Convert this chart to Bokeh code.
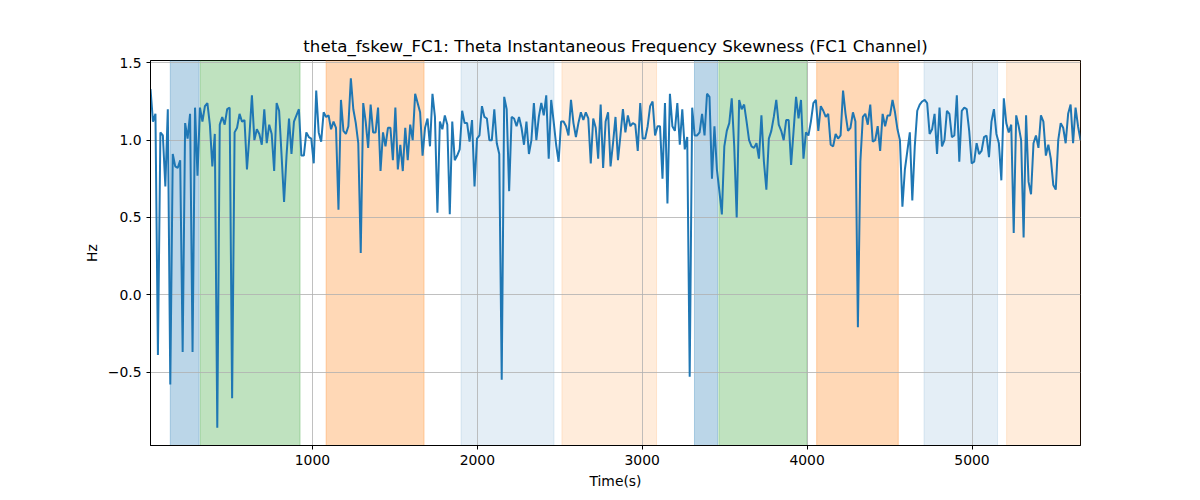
from bokeh.plotting import figure
from bokeh.models import Range1d, FixedTicker
from bokeh.embed import file_html
from bokeh.resources import INLINE

# ---- data ----
t_start = 18.0
t_step = 15.0
values = [
    1.33, 1.12, 1.17, -0.39, 1.05, 1.03, 0.70, 1.20, -0.58, 0.91, 0.83, 0.82, 0.87, -0.37, 1.11, 1.01,
    1.17, -0.37, 1.21, 0.77, 1.21, 1.12, 1.22, 1.24, 1.10, 0.83, 1.04, -0.86, 1.10, 1.15, 1.10, 1.20,
    1.21, -0.67, 1.05, 1.08, 1.17, 1.12, 1.13, 0.81, 1.03, 1.29, 1.00, 1.07, 1.04, 0.97, 1.20,
    0.98, 1.10, 1.04, 0.80, 1.24, 1.19, 0.90, 0.60, 0.90, 1.14, 0.91, 1.12, 1.16, 1.20, 0.90, 0.90,
    1.05, 1.02, 1.01, 0.85, 1.32, 1.05, 0.99, 1.18, 1.15, 1.16, 1.07, 1.12, 1.08, 0.55, 1.26, 1.06,
    1.04, 1.09, 1.40, 1.20, 1.11, 0.98, 0.27, 1.24, 1.12, 0.95, 1.23, 1.05, 1.05, 1.21, 0.80,
    1.05, 0.96, 1.08, 1.08, 0.87, 1.21, 0.81, 0.97, 0.80, 1.08, 0.87, 1.10, 1.00, 1.30, 1.24, 1.18,
    0.90, 1.08, 1.14, 0.96, 1.30, 1.15, 0.53, 1.12, 1.07, 1.16, 1.10, 0.52, 1.12, 0.87, 0.90, 0.94,
    1.19, 1.11, 1.11, 0.99, 1.13, 0.70, 1.01, 1.03, 1.22, 1.15, 1.14, 1.00, 1.00, 1.20,
    0.98, 0.91, -0.55, 1.28, 1.20, 0.67, 1.15, 1.14, 1.09, 1.15, 1.08, 0.97, 1.12, 0.91, 1.00, 1.24,
    1.00, 1.15, 1.24, 1.16, 1.29, 0.88, 1.26, 1.12, 0.97, 0.86, 1.12, 1.12, 1.09, 1.03, 1.26, 1.11,
    1.02, 1.11, 1.18, 1.13, 1.18, 1.14, 0.85, 1.14, 1.08, 0.88, 1.23, 0.82, 1.12, 1.18, 0.83,
    0.98, 1.15, 0.87, 1.03, 1.20, 1.05, 1.16, 1.09, 1.11, 1.10, 0.93, 1.24, 1.01, 1.01, 1.09, 1.22,
    1.25, 1.03, 1.09, 1.09, 0.75, 1.24, 0.59, 1.30, 1.09, 1.06, 1.24, 0.97, 1.20, 0.94, 1.02, -0.53,
    1.21, 1.03, 1.03, 1.05, 1.17, 1.03, 1.30, 1.28, 0.75, 1.09, 0.81, 0.67, 0.52, 0.96,
    1.06, 1.11, 1.27, 0.96, 0.50, 1.26, 1.20, 1.23, 1.12, 1.00, 0.96, 0.95, 0.98, 0.88, 1.16, 0.86,
    0.68, 1.01, 1.06, 1.15, 1.26, 1.10, 1.06, 1.00, 1.13, 1.13, 0.84, 1.06, 1.28, 1.14, 1.26, 0.88,
    1.05, 1.03, 1.12, 1.24, 1.26, 1.06, 1.22, 1.19, 1.15, 1.17, 0.97, 0.96, 1.04, 1.01,
    1.03, 1.32, 1.17, 1.06, 1.08, 1.18, 1.12, -0.21, 0.86, 1.15, 1.17, 1.10, 1.23, 0.99, 1.00, 1.09,
    0.93, 1.17, 1.09, 1.16, 1.16, 1.26, 1.18, 1.07, 1.00, 0.57, 0.81, 0.93, 1.05, 0.61, 0.96, 1.19,
    1.23, 1.25, 1.26, 1.24, 1.04, 1.07, 1.17, 0.91, 1.21, 0.96, 1.00, 1.19, 1.17, 1.02, 1.03,
    1.29, 0.86, 1.19, 1.21, 1.20, 1.06, 0.85, 0.86, 0.98, 0.91, 0.93, 1.02, 1.03, 0.89, 1.12, 1.20,
    1.04, 0.98, 0.74, 1.27, 1.11, 1.05, 1.10, 0.40, 1.16, 1.09, 1.00, 0.37, 1.16, 0.73, 0.65, 0.98,
    1.03, 0.95, 1.16, 1.12, 0.90, 0.97, 0.88, 0.71, 0.68, 1.00, 1.11, 1.08, 0.98, 1.17, 1.23, 0.98,
    1.21, 1.09, 1.00,
]
times = [t_start + i * t_step for i in range(len(values))]

band_starts = [138, 320, 1083, 1901, 2513, 3317, 3465, 4058, 4709, 5210]
band_ends = [313, 925, 1677, 2465, 3087, 3457, 4000, 4553, 5155, 5658]
band_colors = ["#1f77b4", "#2ca02c", "#ff7f0e", "#1f77b4", "#ff7f0e",
               "#1f77b4", "#2ca02c", "#ff7f0e", "#1f77b4", "#ff7f0e"]
band_alphas = [0.3, 0.3, 0.3, 0.12, 0.15, 0.3, 0.3, 0.3, 0.12, 0.15]

x_ticks = [1000, 2000, 3000, 4000, 5000]
y_ticks = [-0.5, 0.0, 0.5, 1.0, 1.5]
y_tick_labels = {-0.5: "\u22120.5", 0.0: "0.0", 0.5: "0.5", 1.0: "1.0", 1.5: "1.5"}

FONT = "DejaVu Sans"

p = figure(
    frame_width=930, frame_height=385,
    min_border_left=150, min_border_right=112, min_border_top=60, min_border_bottom=47,
    x_range=Range1d(times[0], times[-1]), y_range=Range1d(-0.975, 1.515),
    output_backend="svg", toolbar_location=None,
    title="theta_fskew_FC1: Theta Instantaneous Frequency Skewness (FC1 Channel)",
)
p.title.align = "center"
p.title.text_font = FONT
p.title.text_font_size = "16.67px"
p.title.text_font_style = "normal"
p.title.text_color = "black"

# shaded bands (below grid)
p.quad(left=band_starts, right=band_ends, bottom=-10, top=10,
       fill_color=band_colors, fill_alpha=band_alphas,
       line_color=band_colors, line_alpha=band_alphas, line_width=1, level="image")

p.line(times, values, line_color="#1f77b4", line_width=2)

p.outline_line_color = "black"
p.outline_line_width = 1

for ax in (p.xaxis, p.yaxis):
    ax.axis_line_color = "black"
    ax.major_tick_line_color = "black"
    ax.major_tick_out = 4
    ax.major_tick_in = 0
    ax.minor_tick_line_color = None
    ax.major_label_text_font = FONT
    ax.major_label_text_font_size = "13.9px"
    ax.major_label_text_color = "black"
    ax.axis_label_text_font = FONT
    ax.axis_label_text_font_size = "13.9px"
    ax.axis_label_text_font_style = "normal"
    ax.axis_label_text_color = "black"

p.xaxis.ticker = FixedTicker(ticks=x_ticks)
p.yaxis.ticker = FixedTicker(ticks=y_ticks)
p.yaxis.major_label_overrides = y_tick_labels
p.xaxis.axis_label = "Time(s)"
p.yaxis.axis_label = "Hz"
p.xaxis.major_label_standoff = 5
p.yaxis.major_label_standoff = 5

p.grid.grid_line_color = "#b0b0b0"
p.grid.grid_line_width = 0.8
p.xgrid.ticker = FixedTicker(ticks=x_ticks)
p.ygrid.ticker = FixedTicker(ticks=y_ticks)

open("out.html", "w").write(file_html(p, INLINE))
